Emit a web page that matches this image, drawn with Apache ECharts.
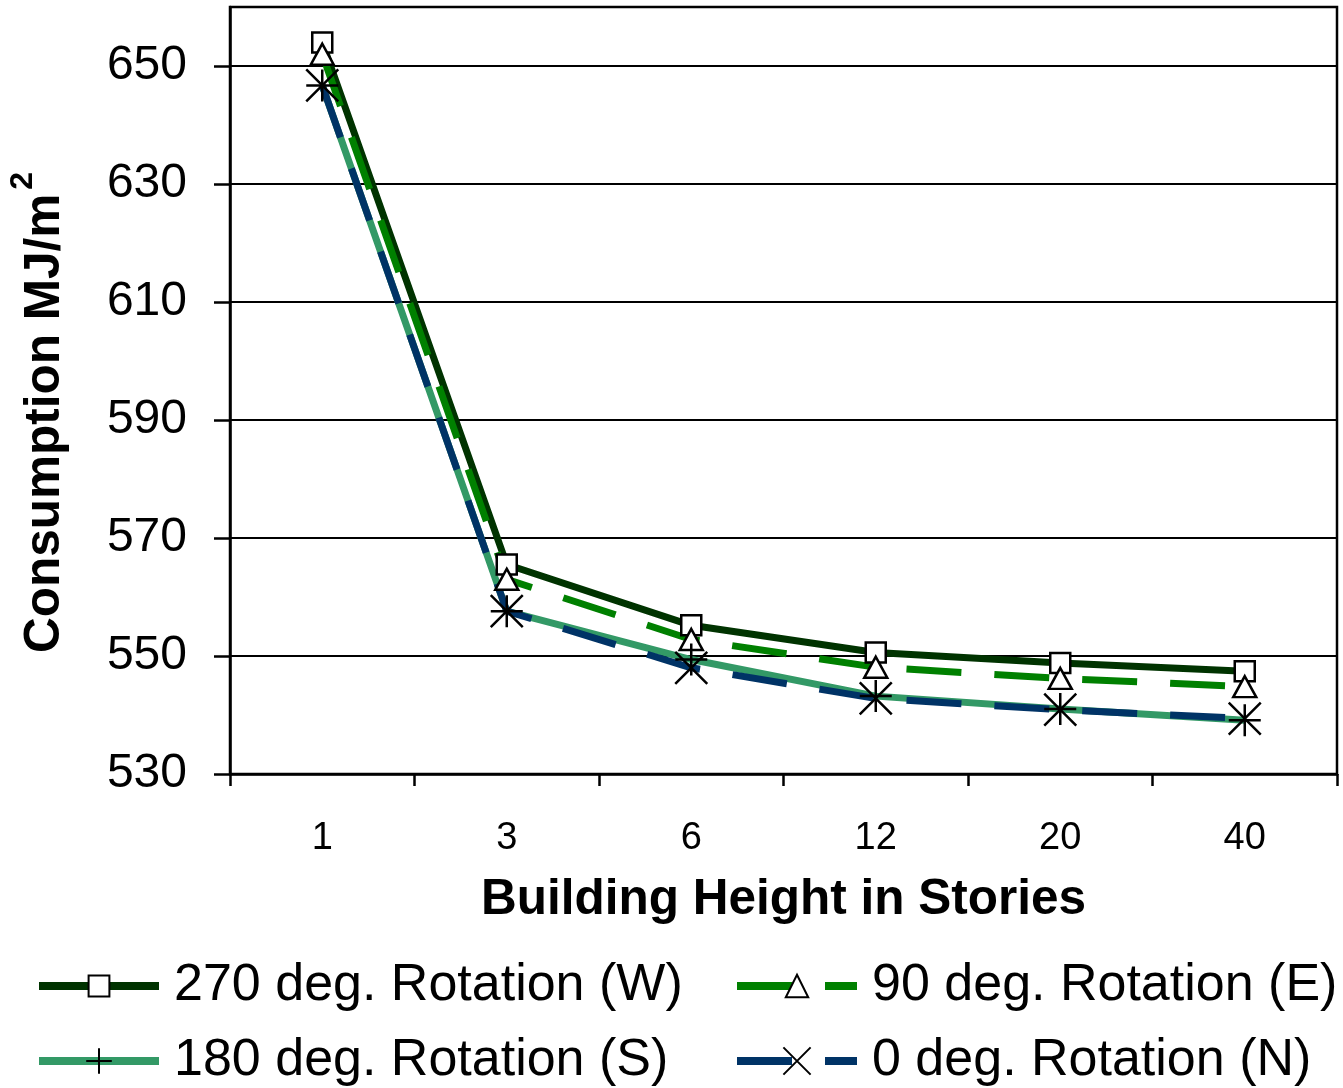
<!DOCTYPE html>
<html>
<head>
<meta charset="utf-8">
<script src="https://cdn.jsdelivr.net/npm/echarts@6/dist/echarts.min.js"></script>
<style>
  html, body { margin: 0; padding: 0; background: #fff; }
  #chart { width: 1343px; height: 1088px; }
</style>
</head>
<body>
<div id="chart"></div>
<script>
// Building height (stories) on the category axis
const stories = ['1', '3', '6', '12', '20', '40'];

// Energy consumption, MJ/m2, per building orientation
const rotWest = [654.0, 565.5, 555.2, 550.6, 548.8, 547.4];
const rotEast = [652.0, 563.0, 552.8, 548.1, 546.2, 544.8];
const rotSouth = [646.7, 557.6, 549.4, 543.2, 541.0, 539.1];
const rotNorth = [646.7, 557.6, 548.0, 542.8, 540.9, 539.4];

const seriesNames = [
  '270 deg. Rotation (W)',
  '90 deg. Rotation (E)',
  '180 deg. Rotation (S)',
  '0 deg. Rotation (N)'
];

const FONT = '"Liberation Sans", Arial, sans-serif';
const PLUS = 'path://M16,0 L16,32 M0,16 L32,16';
const CROSS = 'path://M0,0 L32,32 M0,32 L32,0';
const DASH = [55, 33];

const markerStyle = { color: '#fff', borderColor: '#000', borderWidth: 2.5 };
const strokeMarker = { color: 'none', borderColor: '#000', borderWidth: 2.5 };

function legendFor(name, left, top, color, dashed, h) {
  return {
    data: [name],
    left: left,
    top: top,
    orient: 'horizontal',
    itemWidth: 120,
    itemHeight: h,
    selectedMode: false,
    lineStyle: { width: 8, color: color, type: dashed ? DASH : 'solid' },
    textStyle: {
      fontFamily: FONT, fontSize: 52, color: '#000',
      padding: [0, 0, 0, 10]
    }
  };
}

const chart = echarts.init(document.getElementById('chart'), null, { renderer: 'canvas' });

chart.setOption({
  animation: false,
  backgroundColor: '#fff',
  grid: {
    left: 230, right: 6, top: 7, bottom: 314,
    outerBoundsMode: 'none',
    containLabel: false,
    show: true, borderColor: '#000', borderWidth: 2.5, backgroundColor: 'transparent'
  },
  legend: [
    legendFor(seriesNames[0], 30, 955, '#003300', false, 26),
    legendFor(seriesNames[1], 728, 955, '#008000', true, 28),
    legendFor(seriesNames[2], 30, 1030, '#339966', false, 32),
    legendFor(seriesNames[3], 728, 1030, '#003366', true, 34)
  ],
  xAxis: {
    type: 'category',
    data: stories,
    boundaryGap: true,
    name: 'Building Height in Stories',
    nameLocation: 'middle',
    nameGap: 101,
    nameTextStyle: { fontFamily: FONT, fontSize: 49.5, fontWeight: 'bold', color: '#000' },
    axisLine: { lineStyle: { color: '#000', width: 2.5 } },
    axisTick: { show: true, length: 12, lineStyle: { color: '#000', width: 2.5 } },
    axisLabel: { fontFamily: FONT, fontSize: 38, color: '#000', margin: 46 },
    splitLine: { show: false }
  },
  yAxis: {
    type: 'value',
    min: 530, max: 660, interval: 20,
    name: '{t|Consumption MJ/m}{s|2}',
    nameLocation: 'middle',
    nameGap: 160,
    nameTextStyle: {
      color: '#000',
      padding: [0, 44, 0, 0],
      rich: {
        t: { fontFamily: FONT, fontSize: 49.5, fontWeight: 'bold', color: '#000', padding: [13, 0, 0, 0], verticalAlign: 'bottom' },
        s: { fontFamily: FONT, fontSize: 32, fontWeight: 'bold', color: '#000', verticalAlign: 'top', padding: [0, 0, 0, 4] }
      }
    },
    axisLine: { show: true, lineStyle: { color: '#000', width: 2.5 } },
    axisTick: { show: true, length: 16, lineStyle: { color: '#000', width: 2.5 } },
    axisLabel: { fontFamily: FONT, fontSize: 48, color: '#000', margin: 43, showMaxLabel: false },
    splitLine: { show: true, lineStyle: { color: '#000', width: 2 } }
  },
  series: [
    {
      name: seriesNames[0], type: 'line', data: rotWest,
      symbol: 'rect', symbolSize: 20, showAllSymbol: true,
      lineStyle: { color: '#003300', width: 7 },
      itemStyle: markerStyle
    },
    {
      name: seriesNames[1], type: 'line', data: rotEast,
      symbol: 'triangle', symbolSize: [23, 21], showAllSymbol: true,
      lineStyle: { color: '#008000', width: 7, type: DASH },
      itemStyle: markerStyle
    },
    {
      name: seriesNames[2], type: 'line', data: rotSouth,
      symbol: PLUS, symbolSize: 32, showAllSymbol: true,
      lineStyle: { color: '#339966', width: 7 },
      itemStyle: strokeMarker
    },
    {
      name: seriesNames[3], type: 'line', data: rotNorth,
      symbol: CROSS, symbolSize: 32, showAllSymbol: true,
      lineStyle: { color: '#003366', width: 7, type: DASH },
      itemStyle: strokeMarker
    }
  ]
});
</script>
</body>
</html>
